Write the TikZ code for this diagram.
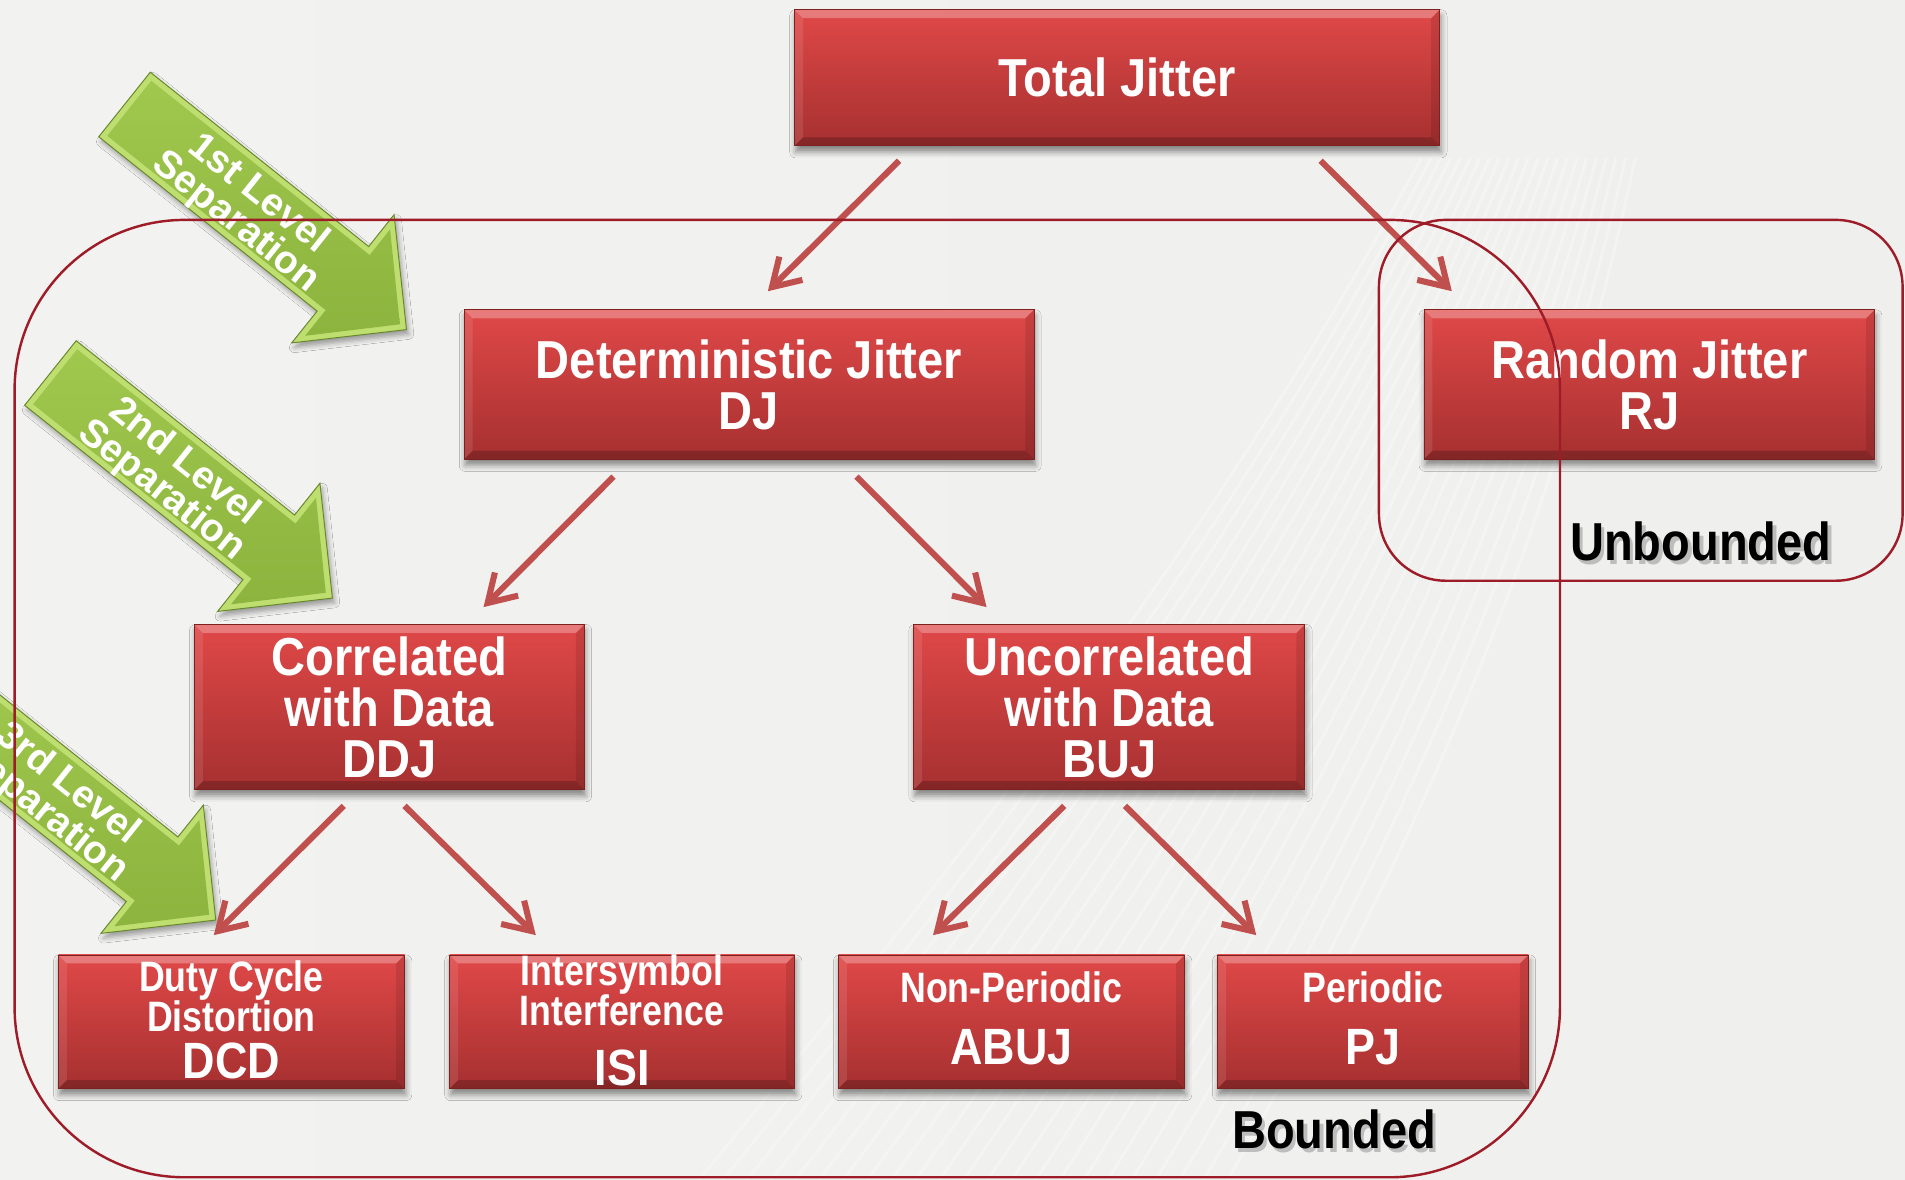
\documentclass[tikz,border=0pt]{standalone}
\usepackage{fontspec}
\setmainfont{Liberation Sans}
\newfontfamily\boxf{Liberation Sans}[FakeStretch=0.88]
\newfontfamily\narrowf{Liberation Sans}[FakeStretch=0.84]
\usetikzlibrary{calc,arrows.meta,shadows.blur}

\definecolor{bgL}{RGB}{242,242,241}
\definecolor{bgM}{RGB}{248,248,247}
\definecolor{bgR}{RGB}{239,239,238}
\definecolor{boxtop}{RGB}{224,72,72}
\definecolor{boxbot}{RGB}{166,48,48}
\definecolor{boxedge}{RGB}{125,32,32}
\definecolor{connred}{RGB}{192,80,77}
\definecolor{framered}{RGB}{158,28,40}
\definecolor{gtop}{RGB}{160,200,78}
\definecolor{gmid}{RGB}{140,180,62}
\definecolor{glight}{RGB}{190,222,112}
\definecolor{gdark}{RGB}{104,136,44}

\tikzset{
  jbox/.style={rectangle, draw=boxedge, line width=0.6pt, inner sep=0pt,
    top color=boxtop, bottom color=boxbot,
    blur shadow={shadow xshift=1pt, shadow yshift=-5pt, shadow blur radius=5pt, shadow opacity=45},
    path picture={
      \fill[white,opacity=0.28] (path picture bounding box.north west) -- (path picture bounding box.north east)
        -- ([xshift=-7pt,yshift=-7pt]path picture bounding box.north east) -- ([xshift=7pt,yshift=-7pt]path picture bounding box.north west) -- cycle;
      \fill[black,opacity=0.20] (path picture bounding box.south west) -- (path picture bounding box.south east)
        -- ([xshift=-7pt,yshift=7pt]path picture bounding box.south east) -- ([xshift=7pt,yshift=7pt]path picture bounding box.south west) -- cycle;
      \fill[white,opacity=0.10] (path picture bounding box.north west) -- ([xshift=7pt,yshift=-7pt]path picture bounding box.north west)
        -- ([xshift=7pt,yshift=7pt]path picture bounding box.south west) -- (path picture bounding box.south west) -- cycle;
      \fill[black,opacity=0.10] (path picture bounding box.north east) -- ([xshift=-7pt,yshift=-7pt]path picture bounding box.north east)
        -- ([xshift=-7pt,yshift=7pt]path picture bounding box.south east) -- (path picture bounding box.south east) -- cycle;
    }},
  bigtxt/.style={text=white, align=center, inner sep=0pt, font=\boxf\bfseries\fontsize{44}{42}\selectfont},
  smalltxt/.style={text=white, align=center, inner sep=0pt, font=\narrowf\bfseries\fontsize{35}{33}\selectfont},
  abbrtxt/.style={text=white, align=center, inner sep=0pt, font=\boxf\bfseries\fontsize{42}{42}\selectfont},
  regionlbl/.style={text=black, inner sep=0pt, font=\boxf\bfseries\fontsize{44}{44}\selectfont},
  regionshadow/.style={text=black!45, opacity=0.5, inner sep=0pt, font=\boxf\bfseries\fontsize{44}{44}\selectfont},
  conn/.style={draw=connred, line width=5pt, -{Straight Barb[length=22pt,width=27pt]}},
  region/.style={draw=framered, line width=2pt},
  lvltxt/.style={text=white, align=center, inner sep=0pt, font=\bfseries\fontsize{32}{30}\selectfont},
}

% green block arrow pointing down-right, tail centre at (#2,#3)
\newcommand\levelarrow[4]{%
  \begin{scope}[shift={(#2,#3)}, rotate=-38.6]
    \path[fill=glight, draw=gdark, line width=0.8pt,
          blur shadow={shadow xshift=2pt, shadow yshift=-4pt, shadow blur radius=4pt, shadow opacity=35}]
      (0,-34) -- (230,-34) -- (230,-67.5) -- (297,0) -- (230,67.5) -- (230,34) -- (0,34) -- cycle;
    \path[top color=gtop, bottom color=gmid]
      (5,-29) -- (235,-29) -- (235,-56) -- (290,0) -- (235,56) -- (235,29) -- (5,29) -- cycle;
    \node[lvltxt, rotate=-38.6] (#1) at (132,4) {#4};
  \end{scope}}

\begin{document}
\begin{tikzpicture}[x=1pt,y=-1pt]
  \clip (0,0) rectangle (1568,971);
  % backdrop with faint light streaks
  \shade[left color=bgL, middle color=bgM, right color=bgR] (0,0) rectangle (1568,971);
  \foreach \k in {0,...,22} {
    \draw[white, opacity=0.28, line width=2.5pt]
      ({560+20*\k},990) .. controls ({780+17*\k},720) and ({990+13*\k},460) .. ({1170+8*\k},130);
  }

  % separation arrows
  \levelarrow{lvlone}{102.5}{86}{1st Level\\Separation}
  \levelarrow{lvltwo}{41.5}{307}{2nd Level\\Separation}
  \levelarrow{lvlthree}{-54.5}{572}{3rd Level\\Separation}

  % jitter boxes
  \node[jbox, minimum width=531pt, minimum height=112pt] (tj)   at (919.5,64)  {};
  \node[jbox, minimum width=469pt, minimum height=123pt] (dj)   at (616.5,316.5) {};
  \node[jbox, minimum width=371pt, minimum height=123pt] (rj)   at (1357.5,316.5) {};
  \node[jbox, minimum width=321pt, minimum height=136pt] (ddj)  at (320.5,582) {};
  \node[jbox, minimum width=322pt, minimum height=136pt] (buj)  at (913,582) {};
  \node[jbox, minimum width=285pt, minimum height=110pt] (dcd)  at (190.5,841) {};
  \node[jbox, minimum width=284pt, minimum height=110pt] (isi)  at (512,841) {};
  \node[jbox, minimum width=285pt, minimum height=110pt] (abuj) at (832.5,841) {};
  \node[jbox, minimum width=256pt, minimum height=110pt] (pj)   at (1130,841) {};

  \node[bigtxt] (tjT)  at (tj.center)  {Total Jitter};
  \node[bigtxt] (djT)  at (dj.center)  {Deterministic Jitter\\DJ};
  \node[bigtxt] (rjT)  at (rj.center)  {Random Jitter\\RJ};
  \node[bigtxt] (ddjT) at (ddj.center) {Correlated\\with Data\\DDJ};
  \node[bigtxt] (bujT) at (buj.center) {Uncorrelated\\with Data\\BUJ};

  \node[smalltxt] (dcdT)  at (190.5,820) {Duty Cycle\\Distortion};
  \node[abbrtxt]  (dcdA)  at (190.5,873) {DCD};
  \node[smalltxt] (isiT)  at (512,815) {Intersymbol\\Interference};
  \node[abbrtxt]  (isiA)  at (512,879) {ISI};
  \node[smalltxt] (abujT) at (832.5,813) {Non-Periodic};
  \node[abbrtxt]  (abujA) at (832.5,862) {ABUJ};
  \node[smalltxt] (pjT)   at (1130,813) {Periodic};
  \node[abbrtxt]  (pjA)   at (1130,862) {PJ};

  % connector end points
  \coordinate (c1s) at ($(tj.south)+(-179.5,12)$);  \coordinate (c1e) at ($(dj.north)+(15.5,-15)$);
  \coordinate (c2s) at ($(tj.south)+(167.5,12)$);   \coordinate (c2e) at ($(rj.north)+(-162.5,-15)$);
  \coordinate (c3s) at ($(dj.south)+(-111.5,14)$);  \coordinate (c3e) at ($(ddj.north)+(77.5,-14)$);
  \coordinate (c4s) at ($(dj.south)+(88.5,14)$);    \coordinate (c4e) at ($(buj.north)+(-101,-14)$);
  \coordinate (c5s) at ($(ddj.south)+(-37.5,13)$);  \coordinate (c5e) at ($(dcd.north)+(-14.5,-16)$);
  \coordinate (c6s) at ($(ddj.south)+(12.5,13)$);   \coordinate (c6e) at ($(isi.north)+(-71,-16)$);
  \coordinate (c7s) at ($(buj.south)+(-37,13)$);    \coordinate (c7e) at ($(abuj.north)+(-64.5,-16)$);
  \coordinate (c8s) at ($(buj.south)+(13,13)$);     \coordinate (c8e) at ($(pj.north)+(-96,-16)$);

  \draw[conn] (c1s) -- (c1e);
  \draw[conn] (c2s) -- (c2e);
  \draw[conn] (c3s) -- (c3e);
  \draw[conn] (c4s) -- (c4e);
  \draw[conn] (c5s) -- (c5e);
  \draw[conn] (c6s) -- (c6e);
  \draw[conn] (c7s) -- (c7e);
  \draw[conn] (c8s) -- (c8e);

  % bounded / unbounded regions
  \draw[region, rounded corners=140pt] (12,181) rectangle (1284,969);
  \draw[region, rounded corners=55pt] (1135,181) rectangle (1566,478);

  \node[regionshadow] (ubS) at (1403,449) {Unbounded};
  \node[regionlbl]    (ub)  at (1400,446) {Unbounded};
  \node[regionshadow] (bS)  at (1101,933) {Bounded};
  \node[regionlbl]    (bd)  at (1098,930) {Bounded};
\end{tikzpicture}
\end{document}
